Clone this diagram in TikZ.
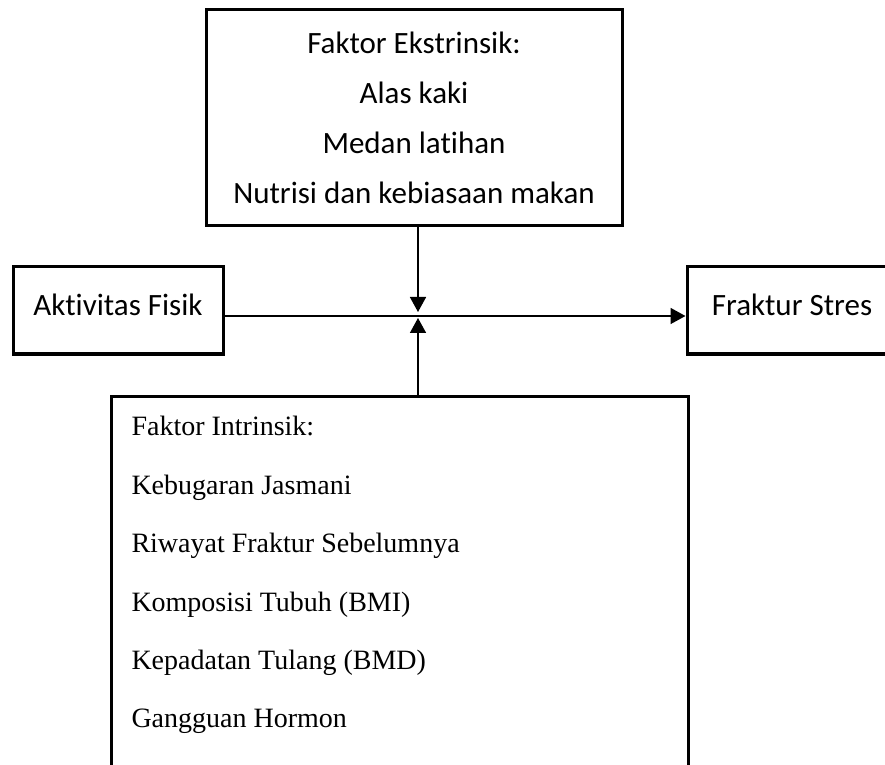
\documentclass[tikz,border=0pt]{standalone}
\usepackage{fontspec}
\setmainfont{Liberation Serif}
\newfontfamily\carlito[Ligatures=NoCommon]{Carlito}
\usetikzlibrary{arrows.meta,positioning,calc}
\tikzset{
  factor/.style={
    draw=black,
    line width=1.5pt,
    rectangle,
    inner sep=0pt,
    font=\carlito\fontsize{15.5}{25}\selectfont,
    align=center
  },
  flow/.style={
    draw=black,
    line width=0.8pt,
    -{Triangle[length=7.5pt,width=8pt]}
  }
}

\begin{document}
\begin{tikzpicture}[x=0.5pt, y=-0.5pt]
    \useasboundingbox (0,0) rectangle (885,765);
    \clip (0,0) rectangle (885,765);

    \node [factor, minimum width=208pt, minimum height=108pt] (ekstrinsik) at (414,118)
      {Faktor Ekstrinsik:\\Alas kaki\\Medan latihan\\Nutrisi dan kebiasaan makan};

    \node [factor, minimum width=105pt, minimum height=43.5pt, text depth=6pt] (aktivitas) at (118,310.5) {Aktivitas Fisik};

    \node [factor, minimum width=105pt, minimum height=43.5pt, text depth=6pt] (fraktur) at (792,310.5) {Fraktur Stres};

    \node [factor, anchor=north west, inner sep=10pt, text width=268.5pt, align=flush left,
      font=\fontsize{14}{29.2}\selectfont] (intrinsik) at (110,395)
      {\spaceskip=0pt\xspaceskip=0pt\relax
       Faktor Intrinsik:\\Kebugaran Jasmani\\Riwayat Fraktur Sebelumnya\\Komposisi Tubuh (BMI)\\Kepadatan Tulang (BMD)\\Gangguan Hormon\\\mbox{}};

    \coordinate (junction) at (418,316);
    \coordinate (jtop) at (418,312);
    \coordinate (jbot) at (418,318);

    \draw [flow] (aktivitas.east |- junction) -- (fraktur.west |- junction);
    \draw [flow] (ekstrinsik.south -| jtop) -- (jtop);
    \draw [flow] (intrinsik.north -| jbot) -- (jbot);
\end{tikzpicture}
\end{document}
